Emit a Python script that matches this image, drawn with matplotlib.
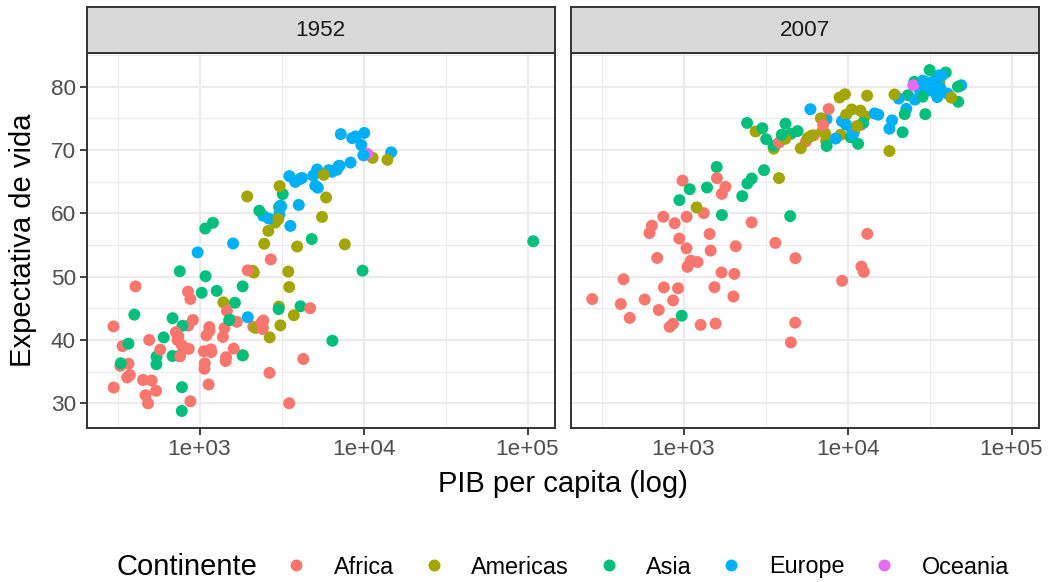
import numpy as np
import matplotlib
matplotlib.use('Agg')
import matplotlib.pyplot as plt
from matplotlib.lines import Line2D
from matplotlib.ticker import FixedLocator, NullFormatter

# gapminder, one entry per country (alphabetical order), 1952 and 2007
continent = [
    'Asia', 'Europe', 'Africa', 'Africa', 'Americas', 'Oceania', 'Europe', 'Asia', 'Asia', 'Europe',
    'Africa', 'Americas', 'Europe', 'Africa', 'Americas', 'Europe', 'Africa', 'Africa', 'Asia', 'Africa',
    'Americas', 'Africa', 'Africa', 'Americas', 'Asia', 'Americas', 'Africa', 'Africa', 'Africa', 'Americas',
    'Africa', 'Europe', 'Americas', 'Europe', 'Europe', 'Africa', 'Americas', 'Americas', 'Africa', 'Americas',
    'Africa', 'Africa', 'Africa', 'Europe', 'Europe', 'Africa', 'Africa', 'Europe', 'Africa', 'Europe',
    'Americas', 'Africa', 'Africa', 'Americas', 'Americas', 'Asia', 'Europe', 'Europe', 'Asia', 'Asia',
    'Asia', 'Asia', 'Europe', 'Asia', 'Europe', 'Americas', 'Asia', 'Asia', 'Africa', 'Asia',
    'Asia', 'Asia', 'Asia', 'Africa', 'Africa', 'Africa', 'Africa', 'Africa', 'Asia', 'Africa',
    'Africa', 'Africa', 'Americas', 'Asia', 'Europe', 'Africa', 'Africa', 'Asia', 'Africa', 'Asia',
    'Europe', 'Oceania', 'Americas', 'Africa', 'Africa', 'Europe', 'Asia', 'Asia', 'Americas', 'Americas',
    'Americas', 'Asia', 'Europe', 'Europe', 'Americas', 'Africa', 'Europe', 'Africa', 'Africa', 'Asia',
    'Africa', 'Europe', 'Africa', 'Asia', 'Europe', 'Europe', 'Africa', 'Africa', 'Europe', 'Asia',
    'Africa', 'Africa', 'Europe', 'Europe', 'Asia', 'Asia', 'Africa', 'Asia', 'Africa', 'Americas',
    'Africa', 'Europe', 'Africa', 'Europe', 'Americas', 'Americas', 'Americas', 'Asia', 'Asia', 'Asia',
    'Africa', 'Africa',
]

gdp_1952 = [
    779.4, 1601.1, 2449.0, 3520.6, 5911.3, 10039.6, 6137.1, 9867.1, 684.2, 8343.1,
    1062.8, 2677.3, 973.5, 851.2, 2108.9, 2444.3, 543.3, 339.3, 368.5, 1172.7,
    11367.2, 1071.3, 1178.7, 3940.0, 400.4, 2144.1, 1103.0, 780.5, 2125.6, 2627.0,
    1388.6, 3119.2, 5586.5, 6876.1, 9692.4, 2669.5, 1397.7, 3522.1, 1418.8, 3048.3,
    375.6, 328.9, 362.1, 6424.5, 7029.8, 4293.5, 485.2, 7144.1, 911.3, 3530.7,
    2428.2, 510.2, 299.9, 1840.4, 2194.9, 3054.4, 5263.7, 7267.7, 546.6, 749.7,
    3035.3, 4129.8, 5210.3, 4086.5, 4931.4, 2898.5, 3217.0, 1546.9, 853.5, 1088.3,
    1030.6, 108382.4, 4834.8, 298.8, 575.6, 2387.5, 1443.0, 369.2, 1831.1, 452.3,
    743.1, 1968.0, 3478.1, 786.6, 2647.6, 1688.2, 468.5, 331.0, 2423.8, 545.9,
    8941.6, 10556.6, 3112.4, 761.9, 1077.3, 10095.4, 1828.2, 684.6, 2480.4, 1952.3,
    3758.5, 1272.9, 4029.3, 3068.3, 3082.0, 2718.9, 3144.6, 493.3, 879.6, 6459.6,
    1450.4, 3581.5, 879.8, 2315.1, 5074.7, 4215.0, 1135.7, 4725.3, 3834.0, 1083.5,
    1616.0, 1148.4, 8527.8, 14734.2, 1643.5, 1206.9, 716.7, 757.8, 859.8, 3023.3,
    1468.5, 1969.1, 734.8, 9979.5, 13990.5, 5716.8, 7689.8, 605.1, 1515.6, 781.7,
    1147.4, 406.9,
]

life_1952 = [
    28.80, 55.23, 43.08, 30.02, 62.49, 69.12, 66.80, 50.94, 37.48, 68.00,
    38.22, 40.41, 53.82, 47.62, 50.92, 59.60, 31.98, 39.03, 39.42, 38.52,
    68.75, 35.46, 38.09, 54.75, 44.00, 50.64, 40.72, 39.14, 42.11, 57.21,
    40.48, 61.21, 59.42, 66.87, 70.78, 34.81, 45.93, 48.36, 41.89, 45.26,
    34.48, 35.93, 34.08, 66.55, 67.41, 37.00, 30.00, 67.50, 43.15, 65.86,
    42.02, 33.61, 32.50, 37.58, 41.91, 60.96, 64.03, 72.49, 37.37, 37.47,
    44.87, 45.32, 66.91, 65.39, 65.94, 58.53, 63.03, 43.16, 42.27, 50.06,
    47.45, 55.57, 55.93, 42.14, 38.48, 42.72, 36.68, 36.26, 48.46, 33.69,
    40.54, 50.99, 50.79, 42.24, 59.16, 42.87, 31.29, 36.32, 41.73, 36.16,
    72.13, 69.39, 42.31, 37.44, 36.32, 72.67, 37.58, 43.44, 55.19, 62.65,
    43.90, 47.75, 61.31, 59.82, 64.28, 52.72, 61.05, 40.00, 46.47, 39.88,
    37.28, 58.00, 30.33, 60.40, 64.36, 65.57, 32.98, 45.01, 64.94, 57.59,
    38.64, 41.41, 71.86, 69.62, 45.88, 58.50, 41.22, 50.85, 38.60, 59.10,
    44.60, 43.59, 39.98, 69.18, 68.44, 66.07, 55.09, 40.41, 43.16, 32.55,
    42.04, 48.45,
]

gdp_2007 = [
    974.6, 5937.0, 6223.4, 4797.2, 12779.4, 34435.4, 36126.5, 29796.0, 1391.3, 33692.6,
    1441.3, 3822.1, 7446.3, 12569.9, 9065.8, 10680.8, 1217.0, 430.1, 1713.8, 2042.1,
    36319.2, 706.0, 1704.1, 13171.6, 4959.1, 7006.6, 986.1, 277.6, 3632.6, 9645.1,
    1544.8, 14619.2, 8948.1, 22833.3, 35278.4, 2082.5, 6025.4, 6873.3, 5581.2, 5728.4,
    12154.1, 641.4, 690.8, 33207.1, 30470.0, 13206.5, 752.7, 32170.4, 1327.6, 27538.4,
    5186.1, 942.7, 579.2, 1201.6, 3548.3, 39725.0, 18008.9, 36180.8, 2452.2, 3540.7,
    11605.7, 4471.1, 40676.0, 25523.3, 28569.7, 7320.9, 31656.1, 4519.5, 1463.2, 1593.1,
    23348.1, 47307.0, 10461.1, 1569.3, 414.5, 12057.5, 1044.8, 759.3, 12451.7, 1042.6,
    1803.2, 10957.0, 11977.6, 3095.8, 9253.9, 3820.2, 823.7, 944.0, 4811.1, 1091.4,
    36797.9, 25185.0, 2749.3, 619.7, 2014.0, 49357.2, 22316.2, 2605.9, 9809.2, 4172.8,
    7408.9, 3190.5, 15389.9, 20509.6, 19328.7, 7670.1, 10808.5, 863.1, 1598.4, 21654.8,
    1712.5, 9786.5, 862.5, 47143.2, 18678.3, 25768.3, 926.1, 9269.7, 28821.1, 3970.1,
    2602.4, 4513.5, 33859.7, 37506.4, 4184.5, 28718.3, 1107.5, 7458.4, 883.0, 18008.5,
    7092.9, 8458.3, 1056.4, 33203.3, 42951.7, 10611.5, 11415.8, 2441.6, 3025.3, 2280.8,
    1271.2, 469.7,
]

life_2007 = [
    43.83, 76.42, 72.30, 42.73, 75.32, 81.24, 79.83, 75.64, 64.06, 79.44,
    56.73, 65.55, 74.85, 50.73, 72.39, 73.01, 52.30, 49.58, 59.72, 50.43,
    80.65, 44.74, 50.65, 78.55, 72.96, 72.89, 65.15, 46.46, 55.32, 78.78,
    48.33, 75.75, 78.27, 76.49, 78.33, 54.79, 72.24, 74.99, 71.34, 71.88,
    51.58, 58.04, 52.95, 79.31, 80.66, 56.74, 59.45, 79.41, 60.02, 79.48,
    70.26, 56.01, 46.39, 60.92, 70.20, 82.21, 73.34, 81.76, 64.70, 70.65,
    70.96, 59.55, 78.89, 80.75, 80.55, 72.57, 82.60, 72.54, 54.11, 67.30,
    78.62, 77.59, 71.99, 42.59, 45.68, 73.95, 59.44, 48.30, 74.24, 54.47,
    64.16, 72.80, 76.20, 66.80, 74.54, 71.16, 42.08, 62.07, 52.91, 63.79,
    79.76, 80.20, 72.90, 56.87, 46.86, 80.20, 75.64, 65.48, 75.54, 71.75,
    71.42, 71.69, 75.56, 78.10, 78.75, 76.44, 72.48, 46.24, 65.53, 72.78,
    63.06, 74.00, 42.57, 79.97, 74.66, 77.93, 48.16, 49.34, 80.94, 72.40,
    58.56, 39.61, 80.88, 81.70, 74.14, 78.40, 52.52, 70.62, 58.42, 69.82,
    73.92, 71.78, 51.54, 79.43, 78.24, 76.38, 73.75, 74.25, 73.42, 62.70,
    42.38, 43.49,
]

years = ['1952', '2007']
continents = ['Africa', 'Americas', 'Asia', 'Europe', 'Oceania']
palette = ['#F8766D', '#A3A500', '#00BF7D', '#00B0F6', '#E76BF3']

plt.rcParams['font.family'] = ['Liberation Sans', 'DejaVu Sans']

cmap = dict(zip(continents, palette))
colors = [cmap[c] for c in continent]

# shared scales (ggplot style 5% expansion)
all_gdp = np.log10(gdp_1952 + gdp_2007)
all_life = np.array(life_1952 + life_2007)
lx0, lx1 = all_gdp.min(), all_gdp.max()
ly0, ly1 = all_life.min(), all_life.max()
xpad = 0.05 * (lx1 - lx0)
ypad = 0.05 * (ly1 - ly0)

W, H = 1048, 582
fig = plt.figure(figsize=(W / 100, H / 100), dpi=100)

panel_bottom = 1 - 428 / H
panel_h = (428 - 53) / H
strip_h = 46 / H
lefts = [87 / W, 571 / W]
pw = 467.5 / W
border = '#333333'

for i, (yr, gx, ly) in enumerate(zip(years, [gdp_1952, gdp_2007], [life_1952, life_2007])):
    ax = fig.add_axes([lefts[i], panel_bottom, pw, panel_h])
    ax.set_xscale('log')
    ax.set_xlim(10 ** (lx0 - xpad), 10 ** (lx1 + xpad))
    ax.set_ylim(ly0 - ypad, ly1 + ypad)
    ax.scatter(gx, ly, c=colors, s=74, linewidths=0, zorder=3)

    ax.xaxis.set_major_locator(FixedLocator([1e3, 1e4, 1e5]))
    ax.set_xticklabels(['1e+03', '1e+04', '1e+05'])
    ax.xaxis.set_minor_locator(FixedLocator([10 ** 2.5, 10 ** 3.5, 10 ** 4.5]))
    ax.xaxis.set_minor_formatter(NullFormatter())
    ax.yaxis.set_major_locator(FixedLocator([30, 40, 50, 60, 70, 80]))
    ax.yaxis.set_minor_locator(FixedLocator([35, 45, 55, 65, 75, 85]))

    ax.grid(which='major', color='#EBEBEB', lw=1.5)
    ax.grid(which='minor', color='#EBEBEB', lw=0.8)
    ax.set_axisbelow(True)
    for s in ax.spines.values():
        s.set_color(border)
        s.set_linewidth(1.4)
    ax.tick_params(which='major', length=5, width=1.3, color=border,
                   labelcolor='#4D4D4D', labelsize=16.2, pad=3)
    ax.tick_params(which='minor', length=0)
    if i == 1:
        ax.tick_params(axis='y', left=False, labelleft=False)

    # facet strip
    st = fig.add_axes([lefts[i], panel_bottom + panel_h, pw, strip_h])
    st.set_facecolor('#D9D9D9')
    st.set_xticks([])
    st.set_yticks([])
    for s in st.spines.values():
        s.set_color(border)
        s.set_linewidth(1.4)
    st.text(0.5, 0.5, yr, ha='center', va='center', fontsize=16.2,
            color='#1A1A1A', transform=st.transAxes)

fig.text(23 / W, 1 - 240.5 / H, 'Expectativa de vida', rotation=90,
         ha='center', va='center', fontsize=21)
fig.text(562.5 / W, 1 - 484 / H, 'PIB per capita (log)',
         ha='center', va='center', fontsize=21)

# legend
fig.text(117 / W, 1 - 567 / H, 'Continente', ha='left', va='center', fontsize=21)
handles = [Line2D([], [], ls='', marker='o', markersize=8.6, color=c, mec='none')
           for c in palette]
fig.legend(handles, continents, loc='center left',
           bbox_to_anchor=(286.7 / W, 1 - 567 / H), ncol=5, frameon=False,
           fontsize=16.8, handlelength=0.8, handletextpad=1.21,
           columnspacing=1.30, borderpad=0, borderaxespad=0)

fig.savefig('out.png', dpi=100)
